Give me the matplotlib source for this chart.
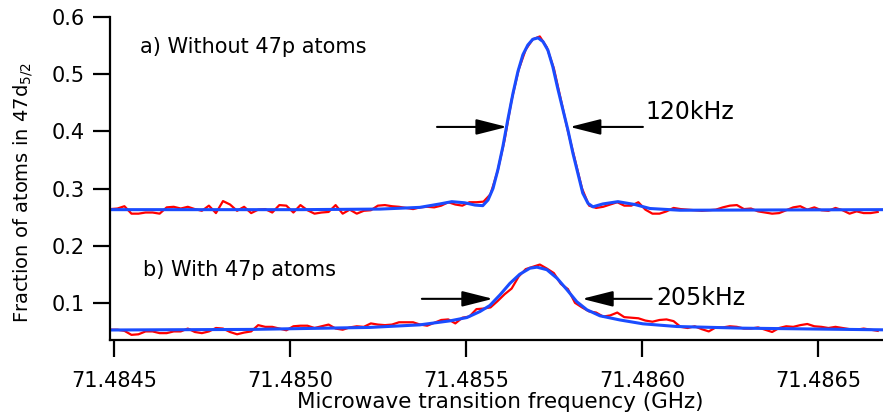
import numpy as np
import matplotlib
matplotlib.use("Agg")
import matplotlib.pyplot as plt

# Scan grid of the measured spectra (GHz)
scan_start = 71.48449
scan_step = 0.00002
n_points = 110

# a) without 47p atoms - measured fraction
red_a = [
    0.264, 0.265, 0.269, 0.256, 0.256, 0.258, 0.258, 0.256, 0.267, 0.268,
    0.265, 0.268, 0.264, 0.261, 0.270, 0.257, 0.278, 0.272, 0.261, 0.268,
    0.257, 0.263, 0.264, 0.258, 0.271, 0.270, 0.258, 0.271, 0.262, 0.256,
    0.258, 0.259, 0.271, 0.256, 0.263, 0.256, 0.261, 0.262, 0.270, 0.271,
    0.269, 0.268, 0.266, 0.264, 0.267, 0.268, 0.267, 0.270, 0.276, 0.272,
    0.270, 0.276, 0.276, 0.277, 0.290, 0.330, 0.385, 0.455, 0.508, 0.543,
    0.561, 0.566, 0.547, 0.510, 0.455, 0.400, 0.350, 0.300, 0.270, 0.266,
    0.268, 0.272, 0.276, 0.270, 0.270, 0.276, 0.263, 0.256, 0.256, 0.260,
    0.266, 0.264, 0.263, 0.262, 0.261, 0.262, 0.263, 0.267, 0.270, 0.271,
    0.264, 0.265, 0.260, 0.258, 0.256, 0.257, 0.262, 0.267, 0.269, 0.263,
    0.267, 0.262, 0.261, 0.266, 0.262, 0.256, 0.260, 0.257, 0.257, 0.259,
]

# b) with 47p atoms - measured fraction
red_b = [
    0.053, 0.053, 0.051, 0.044, 0.045, 0.050, 0.050, 0.047, 0.047, 0.050,
    0.050, 0.055, 0.049, 0.047, 0.050, 0.056, 0.055, 0.049, 0.045, 0.048,
    0.050, 0.061, 0.058, 0.058, 0.055, 0.052, 0.059, 0.060, 0.060, 0.056,
    0.059, 0.062, 0.055, 0.053, 0.057, 0.059, 0.058, 0.064, 0.062, 0.061,
    0.062, 0.066, 0.066, 0.066, 0.062, 0.060, 0.065, 0.070, 0.071, 0.064,
    0.074, 0.076, 0.089, 0.090, 0.092, 0.103, 0.115, 0.125, 0.146, 0.159,
    0.163, 0.167, 0.160, 0.152, 0.133, 0.124, 0.100, 0.092, 0.085, 0.083,
    0.076, 0.078, 0.083, 0.075, 0.074, 0.073, 0.069, 0.067, 0.070, 0.071,
    0.068, 0.058, 0.056, 0.059, 0.054, 0.050, 0.057, 0.057, 0.059, 0.058,
    0.055, 0.055, 0.057, 0.053, 0.049, 0.056, 0.059, 0.058, 0.061, 0.063,
    0.059, 0.058, 0.056, 0.058, 0.056, 0.054, 0.053, 0.055, 0.053, 0.051,
]

# fitted curves
fit_a_x = [71.484489, 71.485028, 71.485256, 71.485369, 71.485426, 71.485460,
           71.485497, 71.485526, 71.485548, 71.485563, 71.485577, 71.485591,
           71.485605, 71.485619, 71.485634, 71.485648, 71.485662, 71.485676,
           71.485690, 71.485705, 71.485719, 71.485733, 71.485747, 71.485761,
           71.485776, 71.485790, 71.485804, 71.485818, 71.485832, 71.485847,
           71.485861, 71.485889, 71.485932, 71.485980, 71.486023, 71.486108,
           71.486685]
fit_a_y = [0.263, 0.263, 0.264, 0.267, 0.273, 0.277,
           0.275, 0.271, 0.270, 0.280, 0.300, 0.333,
           0.373, 0.420, 0.467, 0.505, 0.534, 0.551,
           0.561, 0.5635, 0.557, 0.542, 0.513, 0.475,
           0.437, 0.402, 0.362, 0.327, 0.292, 0.274,
           0.268, 0.273, 0.277, 0.272, 0.265, 0.262,
           0.263]

fit_b_x = [71.484489, 71.484886, 71.485227, 71.485369, 71.485455, 71.485503,
           71.485540, 71.485568, 71.485597, 71.485625, 71.485653, 71.485682,
           71.485702, 71.485730, 71.485759, 71.485787, 71.485815, 71.485844,
           71.485881, 71.485938, 71.486003, 71.486099, 71.486287, 71.486685]
fit_b_y = [0.0525, 0.0535, 0.057, 0.0615, 0.0685, 0.0743,
           0.0848, 0.0953, 0.114, 0.134, 0.150, 0.1606,
           0.1624, 0.158, 0.143, 0.123, 0.102, 0.0878,
           0.0773, 0.070, 0.0633, 0.0586, 0.0557, 0.0528]

x_ticks = [71.4845, 71.4850, 71.4855, 71.4860, 71.4865]
y_ticks = [0.1, 0.2, 0.3, 0.4, 0.5, 0.6]

freq = scan_start + scan_step * np.arange(n_points)

plt.rcParams['font.family'] = ['DejaVu Sans']

fig = plt.figure(figsize=(8.83, 4.17), dpi=100)
ax = fig.add_axes([110 / 883, 1 - 340 / 417, 773 / 883, 323 / 417])

red = "#ff0000"
blue = "#1a4cff"
ax.plot(freq, red_a, color=red, lw=1.6)
ax.plot(freq, red_b, color=red, lw=1.6)
ax.plot(fit_a_x, fit_a_y, color=blue, lw=2.2)
ax.plot(fit_b_x, fit_b_y, color=blue, lw=2.2)

ax.set_xlim(71.484489, 71.486685)
ax.set_ylim(0.035, 0.6)

ax.set_xticks(x_ticks)
ax.set_xticklabels(["%.4f" % t for t in x_ticks])
ax.set_yticks(y_ticks)
ax.set_yticklabels(["%.1f" % t for t in y_ticks])

for side in ["top", "right"]:
    ax.spines[side].set_visible(False)
for side in ["left", "bottom"]:
    ax.spines[side].set_linewidth(1.6)
ax.tick_params(direction="out", length=12, width=1.6, labelsize=15)
ax.tick_params(axis="x", pad=10)
ax.tick_params(axis="y", pad=6)

ax.set_xlabel("Microwave transition frequency (GHz)", fontsize=15.5)
ax.set_ylabel("Fraction of atoms in 47d$_{5/2}$", fontsize=14)
ax.xaxis.set_label_coords(0.505, -0.16)
ax.yaxis.set_label_coords(-0.097, 0.455)

# panel labels
ax.text(71.484574, 0.5476, "a) Without 47p atoms", fontsize=15, va="center", ha="left")
ax.text(71.484582, 0.1577, "b) With 47p atoms", fontsize=15, va="center", ha="left")

# width arrows
arrow = dict(arrowstyle="-|>,head_length=0.95,head_width=0.24", mutation_scale=20,
             color="black", lw=1.5, shrinkA=0, shrinkB=0)
ax.annotate("", xy=(71.485617, 0.4077), xytext=(71.485418, 0.4077), arrowprops=arrow)
ax.annotate("", xy=(71.485795, 0.4077), xytext=(71.486003, 0.4077), arrowprops=arrow)
ax.annotate("", xy=(71.485577, 0.107), xytext=(71.485375, 0.107), arrowprops=arrow)
ax.annotate("", xy=(71.485830, 0.107), xytext=(71.486028, 0.107), arrowprops=arrow)

ax.text(71.486011, 0.434, "120kHz", fontsize=17, va="center", ha="left")
ax.text(71.486040, 0.1087, "205kHz", fontsize=17, va="center", ha="left")

fig.savefig("out.png", dpi=100)
